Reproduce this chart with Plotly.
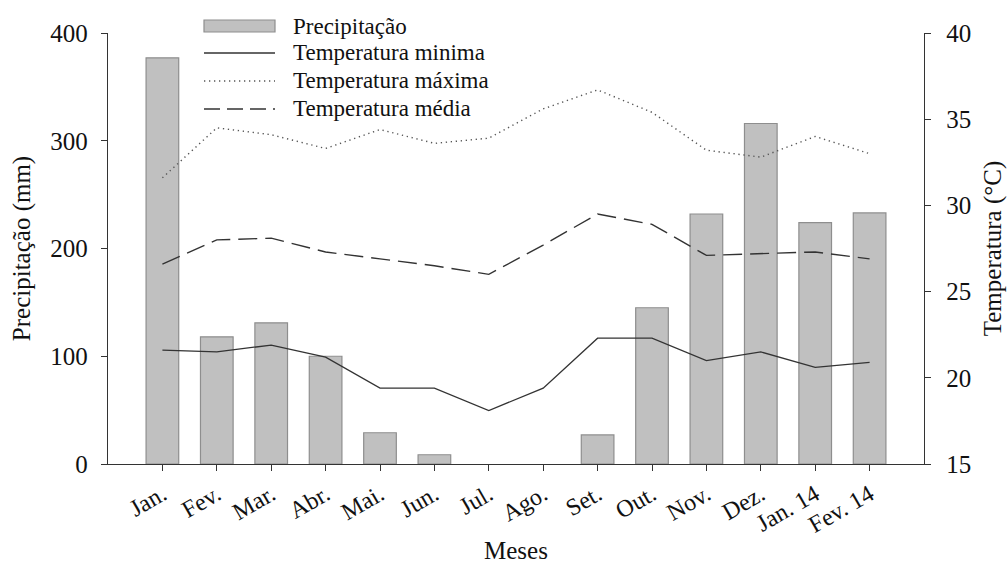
import plotly.graph_objects as go

months = ["Jan.", "Fev.", "Mar.", "Abr.", "Mai.", "Jun.", "Jul.", "Ago.", "Set.",
          "Out.", "Nov.", "Dez.", "Jan. 14", "Fev. 14"]
precip = [377, 118, 131, 100, 29, 8.6, 0, 0, 27, 145, 232, 316, 224, 233]
t_min = [21.6, 21.5, 21.9, 21.2, 19.4, 19.4, 18.1, 19.4, 22.3, 22.3, 21.0, 21.5, 20.6, 20.9]
t_max = [31.6, 34.5, 34.1, 33.3, 34.4, 33.6, 33.9, 35.6, 36.7, 35.4, 33.2, 32.8, 34.0, 33.0]
t_mean = [26.6, 28.0, 28.1, 27.3, 26.9, 26.5, 26.0, 27.7, 29.5, 28.9, 27.1, 27.2, 27.3, 26.9]

legend_labels = ["Precipitação", "Temperatura minima", "Temperatura máxima", "Temperatura média"]

FONT = "Liberation Serif"
LINE = "#333333"
AX = "#333333"
TXT = "#111111"

bar_edge = [1.2 if v > 0 else 0 for v in precip]

fig = go.Figure()
fig.add_trace(go.Bar(x=months, y=precip, width=0.6,
                     marker=dict(color="#c0c0c0", line=dict(color="#8e8e8e", width=bar_edge)),
                     name=legend_labels[0], yaxis="y"))
fig.add_trace(go.Scatter(x=months, y=t_min, mode="lines", line=dict(color=LINE, width=1.3),
                         name=legend_labels[1], yaxis="y2"))
fig.add_trace(go.Scatter(x=months, y=t_max, mode="lines", line=dict(color="#555555", width=1.4, dash="1.3px,3.7px"),
                         name=legend_labels[2], yaxis="y2"))
fig.add_trace(go.Scatter(x=months, y=t_mean, mode="lines", line=dict(color=LINE, width=1.4, dash="19px,8px"),
                         name=legend_labels[3], yaxis="y2"))

# custom legend (pixel geometry converted to paper coords)
L, T, W, H = 108, 33, 816, 431.3
def px(x):
    return (x - L) / W
def py(y):
    return (T + H - y) / H

rows = [26, 53, 81, 109]
shapes = []
shapes.append(dict(type="rect", xref="paper", yref="paper", x0=px(204), x1=px(275), y0=py(32), y1=py(20),
                   fillcolor="#c0c0c0", line=dict(color="#8e8e8e", width=1.2)))
shapes.append(dict(type="line", xref="paper", yref="paper", x0=px(204), x1=px(275), y0=py(rows[1]), y1=py(rows[1]),
                   line=dict(color=LINE, width=1.3)))
shapes.append(dict(type="line", xref="paper", yref="paper", x0=px(204), x1=px(275), y0=py(rows[2]), y1=py(rows[2]),
                   line=dict(color="#555555", width=1.4, dash="1.3px,3.7px")))
shapes.append(dict(type="line", xref="paper", yref="paper", x0=px(204), x1=px(275), y0=py(rows[3]), y1=py(rows[3]),
                   line=dict(color=LINE, width=1.4, dash="16px,7px")))
annotations = []
for lab, r in zip(legend_labels, rows):
    annotations.append(dict(text=lab, xref="paper", yref="paper", x=px(291), y=py(r), xanchor="left", yanchor="middle",
                            showarrow=False, font=dict(family=FONT, size=23, color=TXT)))

fig.update_layout(
    width=1007, height=564,
    margin=dict(l=108, r=83, t=33, b=100, autoexpand=False),
    paper_bgcolor="white", plot_bgcolor="white",
    showlegend=False,
    font=dict(family=FONT, size=25, color=TXT),
    shapes=shapes, annotations=annotations,
    xaxis=dict(type="category", range=[-1, 14], showline=True, linecolor=AX, linewidth=1.3,
               ticks="outside", ticklen=6, tickcolor=AX, tickwidth=1.3, tickangle=-30,
               showgrid=False, zeroline=False, automargin=False,
               title=dict(text="Meses", font=dict(family=FONT, size=25, color=TXT), standoff=10),
               tickfont=dict(family=FONT, size=24, color=TXT)),
    yaxis=dict(range=[0, 400], dtick=100, showline=True, linecolor=AX, linewidth=1.3,
               ticks="outside", ticklen=6, tickcolor=AX, tickwidth=1.3, showgrid=False, zeroline=False,
               automargin=False, ticklabelstandoff=8,
               title=dict(text="Precipitação (mm)", font=dict(family=FONT, size=25, color=TXT), standoff=12),
               tickfont=dict(family=FONT, size=25, color=TXT)),
    yaxis2=dict(range=[15, 40], dtick=5, overlaying="y", side="right", showline=True, linecolor=AX, linewidth=1.3,
                ticks="outside", ticklen=6, tickcolor=AX, tickwidth=1.3, showgrid=False, zeroline=False,
                automargin=False, ticklabelstandoff=10,
                title=dict(text="Temperatura (°C)", font=dict(family=FONT, size=25, color=TXT), standoff=18),
                tickfont=dict(family=FONT, size=25, color=TXT)),
)

fig.write_html("out.html")
